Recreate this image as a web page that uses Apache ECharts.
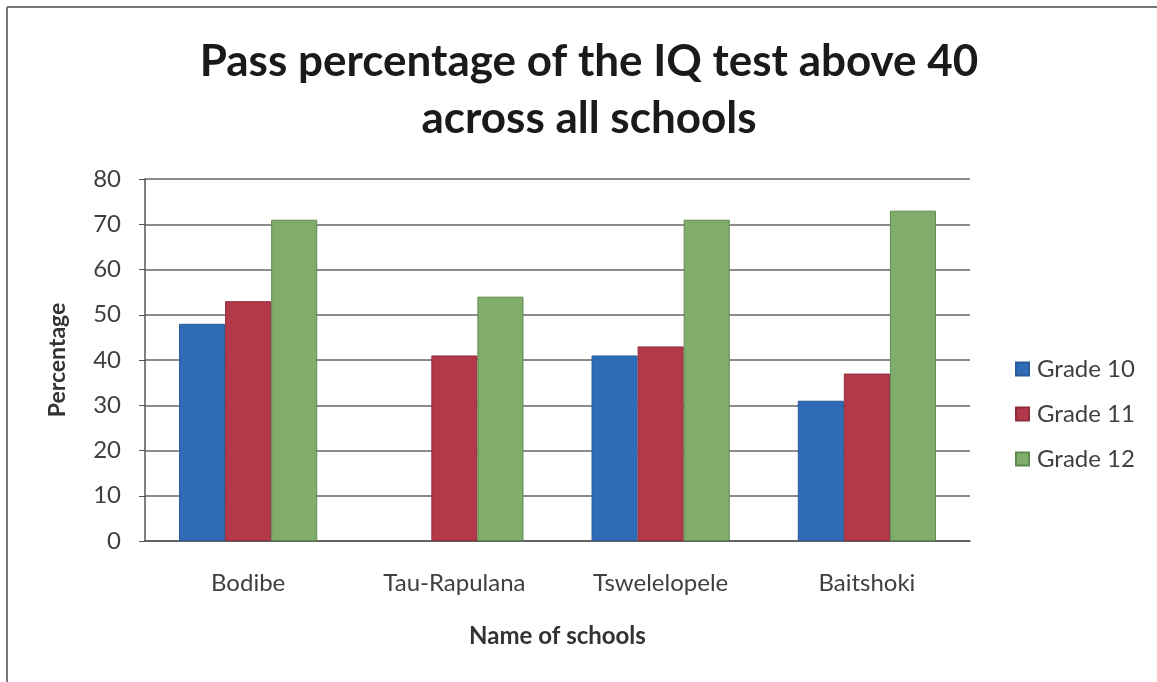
<!DOCTYPE html>
<html><head><meta charset="utf-8">
<script src="https://cdn.jsdelivr.net/npm/echarts@6/dist/echarts.min.js"></script>
<style>html,body{margin:0;padding:0;background:#fff}#c{width:1157px;height:682px}</style>
</head><body><div id="c"></div>
<script>
const schools = ["Bodibe", "Tau-Rapulana", "Tswelelopele", "Baitshoki"];
const seriesNames = ["Grade 10", "Grade 11", "Grade 12"];
const grade10 = [48, 0, 41, 31];
const grade11 = [53, 41, 43, 37];
const grade12 = [71, 54, 71, 73];
const yTicks = [0, 10, 20, 30, 40, 50, 60, 70, 80];

const colors = ["#2f6cb8", "#b3394a", "#80ad6c"];
const borders = ["#2a5a98", "#8f2d3a", "#5f8a4d"];
const FONT = "Lato";
const chart = echarts.init(document.getElementById('c'));
const values = [grade10, grade11, grade12];
chart.setOption({
  backgroundColor: '#fff',
  color: colors,
  title: {
    text: 'Pass percentage of the IQ test above 40\nacross all schools',
    left: 584, top: 28, textAlign: 'center',
    textStyle: {fontFamily: FONT, fontWeight: 'bold', fontSize: 44, lineHeight: 57, color: '#1a1a1a'}
  },
  legend: {
    orient: 'vertical', left: 1010, top: 352, itemGap: 21,
    itemWidth: 13, itemHeight: 13, icon: 'rect',
    textStyle: {fontFamily: FONT, fontSize: 24, color: '#404040', padding: [0, 0, 0, 3]},
    data: seriesNames
  },
  grid: {left: 145, right: 187, top: 179, bottom: 141},
  xAxis: {
    type: 'category', data: schools,
    name: 'Name of schools', nameLocation: 'middle', nameGap: 83,
    nameTextStyle: {fontFamily: FONT, fontWeight: 'bold', fontSize: 24, color: '#333'},
    axisLine: {lineStyle: {color: '#555', width: 1.5}},
    axisTick: {show: false},
    axisLabel: {fontFamily: FONT, fontSize: 24, color: '#404040', margin: 30}
  },
  yAxis: {
    type: 'value', min: 0, max: 80, interval: 10,
    name: 'Percentage', nameLocation: 'middle', nameGap: 76,
    nameTextStyle: {fontFamily: FONT, fontWeight: 'bold', fontSize: 23, color: '#333'},
    axisLine: {show: true, lineStyle: {color: '#555', width: 1.5}},
    axisTick: {show: true, length: 6, inside: false, lineStyle: {color: '#555'}},
    axisLabel: {fontFamily: FONT, fontSize: 24, color: '#404040', margin: 24,
      formatter: v => yTicks.includes(v) ? String(v) : ''},
    splitLine: {lineStyle: {color: '#666', width: 1.5}}
  },
  series: seriesNames.map((n, i) => ({
    name: n, type: 'bar',
    data: values[i].map(v => v === 0 ? {value: v, itemStyle: {borderWidth: 0}} : v),
    barGap: '0%', barCategoryGap: '33%',
    itemStyle: {color: colors[i], borderColor: borders[i], borderWidth: 1},
    emphasis: {disabled: true}
  })),
  graphic: [
    {type: 'line', shape: {x1: 7, y1: 7, x2: 1157, y2: 7}, style: {stroke: '#777', lineWidth: 2}},
    {type: 'line', shape: {x1: 7, y1: 7, x2: 7, y2: 682}, style: {stroke: '#777', lineWidth: 2}}
  ],
  animation: false
});
</script></body></html>
